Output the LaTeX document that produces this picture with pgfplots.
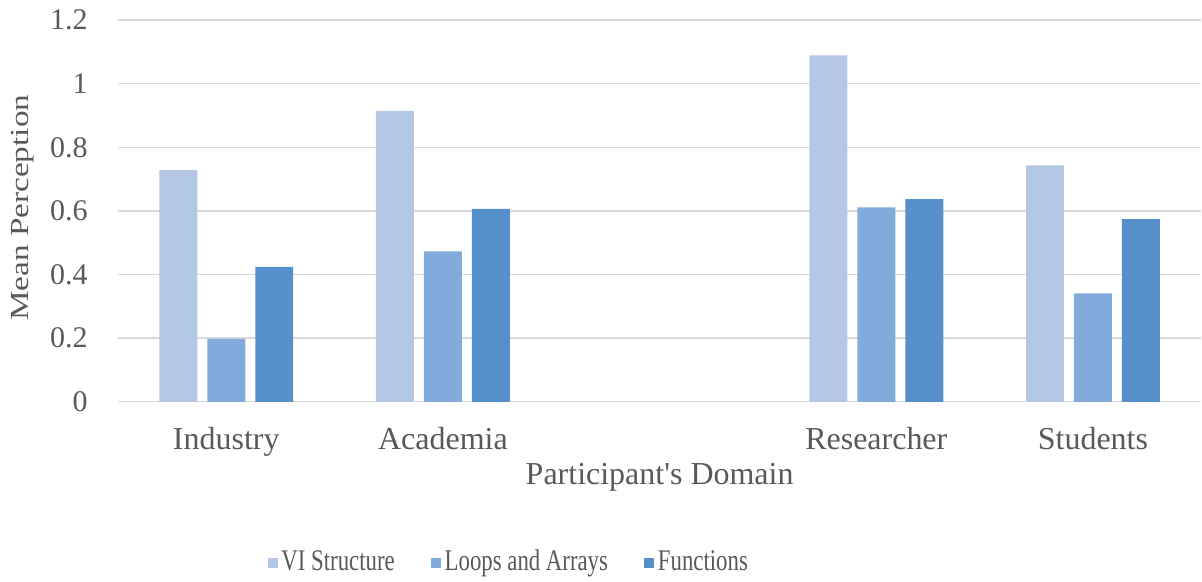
\documentclass[border=0pt]{standalone}
\usepackage{fontspec}
\setmainfont{Liberation Serif}
\newfontfamily\plainserif[Ligatures=Common]{Liberation Serif}
\newfontfamily\narrowserif[FakeStretch=0.76]{Liberation Serif}
\newfontfamily\wideserif[FakeStretch=1.28]{Liberation Serif}
\usepackage{pgfplots}
\pgfplotsset{compat=1.18}

\definecolor{txtgray}{HTML}{595959}
\definecolor{gridgray}{HTML}{D9D9D9}
\definecolor{viS}{HTML}{B4C8E6}
\definecolor{loopsC}{HTML}{82AADA}
\definecolor{funcsC}{HTML}{5590CA}

\begin{document}
\begin{tikzpicture}
\begin{axis}[
  scale only axis,
  width=542pt, height=191pt,
  xmin=-0.5, xmax=4.5,
  ymin=0, ymax=1.2,
  ytick={0,0.2,0.4,0.6,0.8,1,1.2},
  xtick={0,1,3,4},
  xticklabels={Industry,Academia,Researcher,Students},
  ymajorgrids,
  grid style={gridgray, line width=0.7pt},
  axis line style={draw=none},
  major tick length=0pt,
  ybar=5pt, bar width=19pt,
  clip=false,
  /pgf/number format/assume math mode=true,
  tick label style={text=txtgray},
  yticklabel style={anchor=east, inner sep=0pt, xshift=-15pt,
    font=\fontsize{15}{18}\selectfont},
  xticklabel style={anchor=base, yshift=-24pt,
    font=\fontsize{16}{19}\selectfont},
  xlabel={Participant's Domain},
  xlabel style={at={([yshift=-41.5pt]axis description cs:0.5,0)},
    anchor=base, text=txtgray, font=\fontsize{16}{19}\selectfont\plainserif},
  ylabel={Mean Perception},
  ylabel style={at={([xshift=-47.5pt]axis description cs:0,0.508)},
    anchor=center, rotate=0, text=txtgray,
    font=\fontsize{13}{16}\selectfont\wideserif},
  legend columns=3,
  legend style={at={(axis description cs:0.3616,-0.419)}, anchor=center,
    draw=none, fill=none, text=txtgray,
    font=\fontsize{15}{18}\selectfont\narrowserif,
    /tikz/every even column/.append style={column sep=16pt}},
  legend image code/.code={\fill[#1] (0pt,-3pt) rectangle (5pt,2pt);},
]
\addplot[fill=viS, draw=none] coordinates {(0,0.728) (1,0.914) (3,1.089) (4,0.743)};
\addplot[fill=loopsC, draw=none] coordinates {(0,0.198) (1,0.473) (3,0.611) (4,0.341)};
\addplot[fill=funcsC, draw=none] coordinates {(0,0.424) (1,0.606) (3,0.637) (4,0.574)};
\legend{VI Structure, Loops and Arrays, Functions}
% page frame around the plot area
\path ([xshift=-59pt,yshift=-89pt]rel axis cs:0,0) rectangle ([yshift=10pt]rel axis cs:1,1);
\end{axis}
\end{tikzpicture}
\end{document}
